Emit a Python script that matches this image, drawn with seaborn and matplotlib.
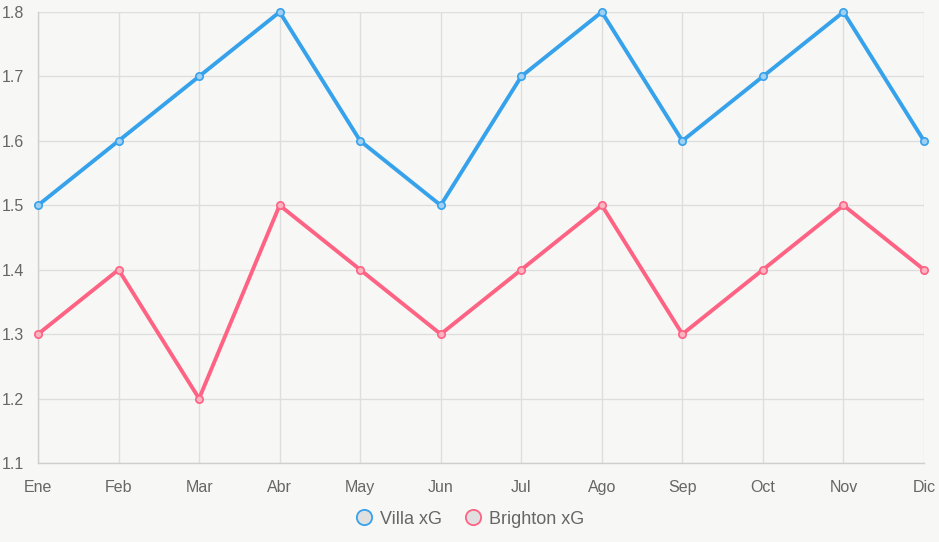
import matplotlib
matplotlib.use('Agg')
import matplotlib.pyplot as plt
import pandas as pd
import seaborn as sns
from matplotlib.lines import Line2D

months = ['Ene', 'Feb', 'Mar', 'Abr', 'May', 'Jun', 'Jul', 'Ago', 'Sep', 'Oct', 'Nov', 'Dic']
villa_xg = [1.5, 1.6, 1.7, 1.8, 1.6, 1.5, 1.7, 1.8, 1.6, 1.7, 1.8, 1.6]
brighton_xg = [1.3, 1.4, 1.2, 1.5, 1.4, 1.3, 1.4, 1.5, 1.3, 1.4, 1.5, 1.4]
series_names = ['Villa xG', 'Brighton xG']
colors = ['#36a2eb', '#ff6384']
fills = ['#9fd0f3', '#f9b3c1']

df = pd.DataFrame({
    'mes': months * 2,
    'idx': list(range(len(months))) * 2,
    'xg': villa_xg + brighton_xg,
    'serie': [series_names[0]] * len(months) + [series_names[1]] * len(months),
})

bg = '#f7f7f5'
grid_c = '#dedede'
text_c = '#666666'

sns.set_style('white')
plt.rcParams['font.family'] = ['Liberation Sans', 'DejaVu Sans']

fig = plt.figure(figsize=(9.39, 5.42), dpi=100, facecolor=bg)
ax = fig.add_axes([38 / 939, 1 - 463 / 542, (924 - 38) / 939, (463 - 12) / 542])
ax.set_facecolor(bg)

sns.lineplot(data=df, x='idx', y='xg', hue='serie', palette=colors,
             linewidth=2.8, legend=False, ax=ax, zorder=3)
for name, col, fc in zip(series_names, colors, fills):
    sub = df[df['serie'] == name]
    ax.scatter(sub['idx'], sub['xg'], s=28, facecolor=fc, edgecolor=col,
               linewidth=1.2, zorder=4, clip_on=False)

ax.set_xlim(0, len(months) - 1)
ax.set_ylim(1.1, 1.8)
ax.set_xticks(range(len(months)))
ax.set_xticklabels(months)
ax.set_yticks([1.1, 1.2, 1.3, 1.4, 1.5, 1.6, 1.7, 1.8])
ax.set_yticklabels(['1.1', '1.2', '1.3', '1.4', '1.5', '1.6', '1.7', '1.8'])
ax.grid(True, color=grid_c, linewidth=1)
ax.tick_params(axis='both', length=8, color=grid_c, labelcolor=text_c, labelsize=11.5)
ax.tick_params(axis='x', pad=4)
ax.tick_params(axis='y', pad=2)
ax.set_xlabel('')
ax.set_ylabel('')
for s in ['top', 'right']:
    ax.spines[s].set_visible(False)
for s in ['left', 'bottom']:
    ax.spines[s].set_color('#cfcfcf')
    ax.spines[s].set_linewidth(1)

handles = [Line2D([], [], marker='o', linestyle='', markersize=11,
                  markerfacecolor='#e0e0e0', markeredgecolor=c, markeredgewidth=1.3)
           for c in colors]
fig.legend(handles, series_names, loc='center', bbox_to_anchor=(0.5, 1 - 519 / 542),
           ncol=2, frameon=False, fontsize=13, labelcolor=text_c,
           handletextpad=0.4, columnspacing=1.2, handlelength=1.0)

fig.savefig('out.png', dpi=100, facecolor=bg)
